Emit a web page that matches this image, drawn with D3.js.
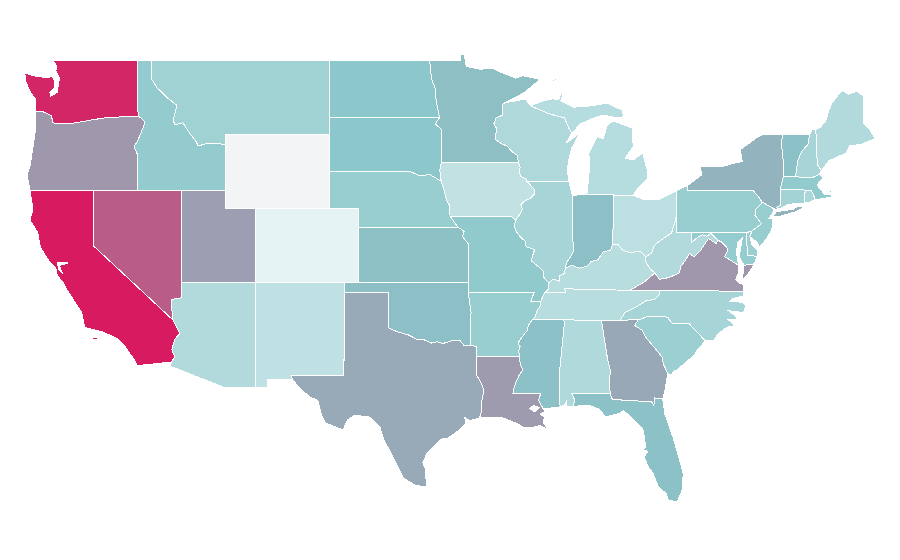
<!DOCTYPE html>
<html>
<head>
<meta charset="utf-8">
<style>
  html, body { margin: 0; background: #fff; }
  path.state { stroke: #fff; stroke-width: 1; shape-rendering: crispEdges; fill-rule: evenodd; }
</style>
</head>
<body>
<div id="chart"></div>
<script src="https://cdn.jsdelivr.net/npm/d3@7"></script>
<script>
const names = ["WA","OR","CA","NV","ID","MT","WY","UT","CO","AZ","NM","ND","SD","NE","KS","OK","TX","MN","IA","MO","AR","LA","WI","IL","MI","IN","OH","KY","TN","MS","AL","GA","FL","SC","NC","VA","WV","MD","DE","PA","NJ","NY","CT","RI","MA","VT","NH","ME"];
const values = [96.8,63.7,100,81,45,38,null,61.6,0.5,28,20.6,49,49,41.8,51.7,52,58.7,52.3,20,46.7,42,62.8,30.4,35,26.6,52,22.8,25,25,51.5,30,59,51.5,41,34,64,28,44,41,42,42,55.8,36,32,46,51.5,34,28];

// shared borders, lon/lat, listed so they can be reused by both neighbours
const missA = [[-92.1,46.75],[-92.29,46.66],[-92.29,46.08],[-92.75,45.9],[-92.88,45.6],[-92.7,45.35],[-92.8,44.75],[-92.3,44.5],[-92.0,44.4],[-91.6,44.05],[-91.3,43.9],[-91.22,43.5]];
const missB = [[-91.22,43.5],[-91.1,43.25],[-91.17,43.0],[-91.05,42.75],[-90.7,42.62],[-90.65,42.5]];
const missC = [[-90.65,42.5],[-90.42,42.3],[-90.15,42.05],[-90.15,41.8],[-90.4,41.58],[-90.75,41.45],[-91.05,41.25],[-90.95,41.0],[-91.12,40.7],[-91.42,40.38]];
const missD = [[-91.42,40.38],[-91.5,40.05],[-91.35,39.75],[-91.05,39.45],[-90.75,39.25],[-90.7,38.95],[-90.12,38.8],[-90.25,38.5],[-90.35,38.2],[-89.9,37.9],[-89.55,37.65],[-89.5,37.3],[-89.15,36.98]];
const missE = [[-89.15,36.98],[-89.2,36.65],[-89.42,36.5]];
const missF = [[-89.42,36.5],[-89.55,36.3],[-89.7,36.0]];
const missG = [[-89.7,36.0],[-89.75,35.75],[-89.95,35.5],[-90.1,35.15],[-90.3,35.0]];
const missH = [[-90.3,35.0],[-90.55,34.7],[-90.6,34.45],[-90.95,34.1],[-91.25,33.75],[-91.1,33.55],[-91.2,33.35],[-91.15,33.0]];
const missI = [[-91.15,33.0],[-91.1,32.6],[-90.92,32.3],[-91.15,32.05],[-91.4,31.6],[-91.55,31.25],[-91.6,31.0],[-89.73,31.0],[-89.85,30.65],[-89.53,30.18]];
const ohioA = [[-89.15,36.98],[-88.9,37.2],[-88.45,37.1],[-88.45,37.4],[-88.1,37.5],[-88.05,37.8]];
const ohioB = [[-88.05,37.8],[-87.6,37.95],[-87.1,37.8],[-86.6,37.9],[-86.3,38.15],[-85.85,38.25],[-85.45,38.7],[-85.0,38.75],[-84.82,39.1]];
const ohioC = [[-84.82,39.1],[-84.5,39.1],[-84.2,38.8],[-83.7,38.63],[-83.0,38.72],[-82.6,38.42]];
const ohioD = [[-82.6,38.42],[-82.2,38.6],[-82.05,39.0],[-81.75,39.2],[-81.4,39.4],[-80.85,39.7],[-80.65,40.2],[-80.52,40.64]];
const wabash = [[-88.05,37.8],[-87.95,38.1],[-87.7,38.4],[-87.5,38.7],[-87.53,39.35],[-87.53,41.71]];
const kyWv = [[-82.6,38.42],[-82.6,38.15],[-82.3,37.75],[-81.97,37.54]];
const kyVa = [[-81.97,37.54],[-82.7,37.05],[-83.68,36.6]];
const vaWv = [[-81.97,37.54],[-81.68,37.2],[-81.25,37.25],[-80.85,37.35],[-80.3,37.55],[-80.25,37.85],[-79.95,38.18],[-79.65,38.58],[-79.3,38.42],[-78.87,38.77],[-78.35,39.4],[-77.83,39.13],[-77.72,39.32]];
const mdWv = [[-77.72,39.32],[-78.2,39.68],[-78.45,39.52],[-78.75,39.6],[-79.05,39.48],[-79.48,39.2],[-79.48,39.72]];
const potomac = [[-77.72,39.32],[-77.45,39.2],[-77.12,38.93],[-77.04,38.79],[-77.25,38.4],[-77.0,38.3],[-76.35,37.97]];
const tnNc = [[-81.68,36.59],[-81.7,36.35],[-82.0,36.1],[-82.6,36.03],[-83.1,35.77],[-84.0,35.4],[-84.32,34.99]];
const ncSc = [[-83.11,35.0],[-82.4,35.2],[-81.05,35.15],[-81.05,35.05],[-80.8,34.82],[-79.67,34.8],[-78.55,33.86]];
const gaSc = [[-83.11,35.0],[-83.35,34.7],[-82.85,34.45],[-82.55,34.0],[-82.0,33.5],[-81.5,33.0],[-81.4,32.6],[-81.1,32.1],[-80.87,32.03]];
const gaAl = [[-84.86,30.7],[-85.0,31.0],[-85.05,31.5],[-85.0,32.3],[-85.18,32.87],[-85.6,34.98]];
const gaFl = [[-81.45,30.72],[-82.0,30.78],[-82.05,30.37],[-82.2,30.57],[-84.86,30.7]];
const redRiver = [[-94.48,33.64],[-94.9,33.62],[-95.2,33.9],[-95.7,33.88],[-96.35,33.72],[-96.7,33.82],[-97.1,33.75],[-97.4,33.85],[-97.7,33.95],[-98.1,33.95],[-98.7,34.2],[-99.4,34.35],[-100.0,34.56]];
const laTx = [[-94.04,33.02],[-94.04,32.0],[-93.75,31.6],[-93.55,31.2],[-93.7,30.6],[-93.72,30.05],[-93.85,29.7]];
const missouriUp = [[-95.3,40.0],[-95.85,40.6],[-95.9,41.2],[-96.1,41.5],[-96.25,42.0],[-96.45,42.49]];
const missouriSd = [[-96.45,42.49],[-97.2,42.85],[-97.9,42.8],[-98.5,43.0]];
const sdMn = [[-96.45,43.5],[-96.45,45.3],[-96.85,45.6],[-96.56,45.94]];
const ndMn = [[-96.56,45.94],[-96.8,46.9],[-96.85,47.5],[-97.1,48.0],[-97.23,49.0]];
const moKs = [[-94.62,37.0],[-94.61,39.1],[-95.0,39.5],[-94.9,39.8],[-95.3,40.0]];
const wiMi = [[-90.4,46.57],[-89.1,46.13],[-88.1,45.92],[-87.8,45.35],[-87.6,45.1]];
const delaware = [[-74.7,41.36],[-75.13,40.98],[-75.2,40.65],[-74.75,40.2],[-75.41,39.8]];
const vtNh = [[-71.5,45.01],[-71.6,44.5],[-72.05,44.1],[-72.3,43.6],[-72.46,42.73]];
const nyVt = [[-73.34,45.01],[-73.4,44.5],[-73.3,43.7],[-73.25,43.55],[-73.27,42.75]];
const riMa = [[-71.38,42.02],[-71.33,41.9],[-71.2,41.67],[-71.12,41.5]];
const snake = [[-116.92,46.0],[-116.5,45.7],[-116.65,45.37],[-117.0,44.7],[-117.25,44.35],[-117.0,43.9],[-117.03,42.0]];
const bitterroot = [[-116.05,48.0],[-115.7,47.55],[-115.0,47.0],[-114.35,46.6],[-114.6,45.8],[-114.5,45.55],[-113.95,45.65],[-113.45,45.05],[-113.1,44.7],[-112.9,44.4],[-112.3,44.55],[-111.55,44.55],[-111.05,44.45]];
const columbia = [[-123.95,46.25],[-123.4,46.24],[-122.85,46.05],[-122.75,45.65],[-122.05,45.6],[-121.2,45.65],[-120.2,45.8],[-119.0,45.95],[-116.92,46.0]];
const azCa = [[-114.63,35.0],[-114.15,34.27],[-114.5,33.95],[-114.7,33.4],[-114.5,33.0],[-114.72,32.72]];
const riverNeWi = [[-87.53,41.71],[-87.6,41.85],[-87.8,42.49]];
const nyPa = [[-79.76,42.27],[-79.76,42.0],[-75.35,42.0],[-75.05,41.75],[-74.7,41.36]];
const rioGrande = [[-106.53,31.78],[-106.2,31.47],[-105.4,30.85],[-104.8,30.65],[-104.6,29.95],[-104.3,29.45],[-103.9,29.3],[-103.1,29.05],[-102.8,29.6],[-102.3,29.85],[-101.3,29.75],[-100.6,29.2],[-100.35,28.55],[-99.5,27.25],[-99.0,26.45],[-98.2,26.05],[-97.4,25.97]];

const rev = (a) => a.slice().reverse();
const ring = (...parts) => parts.flat();

const rings = {
  WA: [ring([[-117.03,49],[-122.75,49],[-122.5,48.75],[-122.55,48.45],[-122.3,48.05],[-122.4,47.6],[-122.45,47.3],[-122.9,47.08],[-122.95,47.3],[-122.62,47.55],[-122.65,47.9],[-122.78,48.15],[-123.2,48.1],[-124.1,48.2],[-124.65,48.35],[-124.6,47.9],[-124.3,47.35],[-123.95,46.95]], columbia, [[-117.04,46.4]])],
  OR: [ring(columbia, snake, [[-124.3,42],[-124.5,42.85],[-124.3,43.3],[-124.03,44.7],[-123.9,45.5]])],
  CA: [ring([[-124.3,42],[-120,42],[-120,39]], azCa, [[-117.05,32.53],[-117.25,32.85],[-117.9,33.6],[-118.4,34.0],[-119.4,34.36],[-120.6,34.6],[-120.8,35.4],[-121.8,36.63],[-122.0,36.95],[-122.45,37.4],[-122.55,37.8],[-122.95,38.1],[-123.6,38.93],[-123.77,39.7],[-124.3,40.4],[-124.1,41]]),
       [[-122.45,38.1],[-121.7,38.08],[-122.15,37.98],[-122.3,37.93],[-122.1,37.5],[-122.32,37.68],[-122.4,37.9]],
       [[-120.05,34.05],[-119.75,34.05],[-119.75,33.95],[-120.05,33.95]]],
  NV: [ring([[-120,42],[-114.04,42],[-114.04,36.2],[-114.75,36.1],[-114.63,35.0],[-120,39]])],
  ID: [ring([[-117.03,49],[-116.05,49]], bitterroot, [[-111.05,42]], rev(snake), [[-117.04,46.4]])],
  MT: [ring([[-116.05,49],[-104.05,49],[-104.05,45],[-111.05,45]], rev(bitterroot))],
  WY: [[[-111.05,45],[-104.05,45],[-104.05,41],[-111.05,41]]],
  UT: [[[-114.04,42],[-111.05,42],[-111.05,41],[-109.05,41],[-109.05,37],[-114.04,37]]],
  CO: [[[-109.05,41],[-102.05,41],[-102.05,37],[-109.05,37]]],
  AZ: [ring([[-114.04,37],[-109.05,37],[-109.05,31.33],[-111.07,31.33],[-114.81,32.5]], rev(azCa), [[-114.75,36.1],[-114.04,36.2]])],
  NM: [[[-109.05,37],[-103.0,37],[-103.04,32],[-106.62,32],[-106.53,31.78],[-108.21,31.78],[-108.21,31.33],[-109.05,31.33]]],
  ND: [ring([[-104.05,49]], rev(ndMn), [[-104.05,45.94]])],
  SD: [ring([[-104.05,45.94]], rev(sdMn), [[-96.55,43.1]], missouriSd, [[-104.05,43]])],
  NE: [ring([[-104.05,43]], rev(missouriSd), rev(missouriUp), [[-102.05,40],[-102.05,41],[-104.05,41]])],
  KS: [ring([[-102.05,40]], rev(moKs), [[-102.04,37]])],
  OK: [ring([[-103,37],[-94.62,37],[-94.62,36.5],[-94.43,35.4]], redRiver, [[-100,36.5],[-103,36.5]])],
  TX: [ring([[-103,36.5],[-100,36.5]], rev(redRiver), [[-94.04,33.55]], laTx, [[-94.5,29.55],[-94.85,29.72],[-94.8,29.4],[-95.3,29.0],[-96.0,28.6],[-96.5,28.55],[-97.05,28.1],[-97.4,27.8],[-97.7,27.3],[-97.5,26.9],[-97.5,26.5]], rev(rioGrande), [[-106.62,32],[-103.04,32]])],
  MN: [ring([[-95.15,49],[-95.15,49.38],[-94.9,49.35],[-94.75,48.7],[-93.8,48.55],[-93.0,48.6],[-92.46,48.4],[-91.4,48.07],[-90.9,48.2],[-89.75,48.0],[-90.8,47.3]], missA, [[-96.45,43.5]], sdMn, ndMn)],
  IA: [ring([[-96.45,43.5]], missB, missC, [[-91.72,40.6],[-95.85,40.6]], missouriUp.slice(2), [[-96.55,43.1]])],
  MO: [ring([[-95.85,40.6],[-91.72,40.6]], missD, missE, missF, [[-90.38,36],[-90.15,36.5],[-94.62,36.5]], moKs)],
  AR: [ring([[-94.62,36.5],[-90.15,36.5],[-90.38,36]], missG, missH, [[-94.04,33.02],[-94.04,33.55],[-94.48,33.64],[-94.43,35.4]])],
  LA: [ring([[-91.15,33.0]], missI, [[-89.4,30.05],[-89.75,29.9],[-89.45,29.75],[-89.55,29.45],[-89.2,29.05],[-89.75,29.3],[-90.2,29.2],[-90.9,29.2],[-91.3,29.4],[-91.8,29.55],[-92.25,29.7],[-92.9,29.7],[-93.85,29.7]], rev(laTx)),
       [[-90.45,30.2],[-90.2,30.38],[-89.8,30.25],[-90.1,30.03]]],
  WI: [ring([[-92.1,46.75],[-91.2,46.87],[-90.75,46.95]], wiMi, [[-88.0,44.55],[-87.4,44.9],[-87.05,45.15],[-87.6,44.3],[-87.85,43.5],[-87.9,43.0],[-87.8,42.49]], [[-90.65,42.5]], rev(missB), rev(missA))],
  IL: [ring([[-90.65,42.5]], rev(riverNeWi), rev(wabash), rev(ohioA), rev(missD), rev(missC))],
  MI: [ring(rev(wiMi), [[-89.6,46.83],[-88.9,46.95],[-88.5,46.9],[-88.35,47.2],[-87.85,47.45],[-88.2,47.2],[-88.35,46.85],[-87.5,46.5],[-86.5,46.55],[-85.2,46.72],[-84.6,46.47],[-84.2,46.35],[-84.1,45.97],[-84.7,45.95],[-85.5,46.08],[-86.3,45.85],[-87.0,45.6]]),
       ring([[-86.82,41.76],[-84.8,41.76],[-84.8,41.7],[-83.45,41.73],[-83.15,42.1],[-82.5,42.6],[-82.45,42.95],[-82.8,44.02],[-83.45,43.65],[-84.0,43.75],[-83.45,44.35],[-83.5,45.37],[-84.8,45.75],[-85.2,45.55],[-85.47,44.8],[-85.9,44.9],[-86.45,44.02],[-86.4,43.26],[-86.57,41.86]]),
       [[-89.1,47.87],[-88.65,48.05],[-88.7,47.93]]],
  IN: [ring([[-87.53,41.71],[-87.2,41.76],[-86.82,41.76],[-84.8,41.76]], rev(ohioB), wabash)],
  OH: [ring([[-84.8,41.7],[-83.45,41.73],[-82.7,41.5],[-81.7,41.5],[-80.52,41.98]], rev(ohioD), rev(ohioC))],
  KY: [ring(ohioA, ohioB, ohioC, kyWv, kyVa, [[-86.5,36.65],[-88.07,36.68],[-88.06,36.5],[-89.42,36.5]], rev(missE))],
  TN: [ring([[-89.42,36.5],[-88.06,36.5],[-88.07,36.68],[-86.5,36.65],[-83.68,36.6]], tnNc, [[-85.6,34.98],[-88.2,35.0]], rev(missG), rev(missF))],
  MS: [ring([[-90.3,35.0],[-88.2,35.0],[-88.1,34.9],[-88.47,31.9],[-88.4,30.3],[-89.53,30.18]], rev(missI), rev(missH))],
  AL: [ring([[-88.2,35.0],[-85.6,34.98]], rev(gaAl.slice(1)), [[-87.6,31.0],[-87.4,30.65],[-87.52,30.33],[-88.0,30.3],[-87.95,30.65],[-88.1,30.4],[-88.4,30.3],[-88.47,31.9],[-88.1,34.9]])],
  GA: [ring([[-85.6,34.98],[-84.32,34.99]], gaSc, [[-81.1,32.1],[-81.3,31.2]], gaFl, gaAl.slice(1))],
  FL: [ring(gaFl, [[-85.0,31.0],[-87.6,31.0],[-87.4,30.65],[-87.52,30.33],[-86.4,30.38],[-85.7,30.15],[-85.35,29.75],[-84.35,29.95],[-84.1,30.1],[-83.4,29.6],[-82.77,29.05],[-82.6,28.15],[-82.77,27.97],[-82.45,27.9],[-82.7,27.6],[-82.43,27.05],[-82.1,26.7],[-81.75,26.0],[-81.2,25.6],[-81.07,25.27],[-80.47,25.16],[-80.13,25.8],[-80.06,26.7],[-80.3,27.4],[-80.75,28.65],[-81.3,29.9]])],
  SC: [ring(gaSc, [[-80.65,32.25],[-80.45,32.3],[-79.9,32.7],[-79.3,33.1],[-79.15,33.35]], rev(ncSc))],
  NC: [ring([[-84.32,34.99]], rev(tnNc), [[-75.95,36.55],[-76.0,36.3],[-76.7,36.15],[-76.9,36.0],[-76.0,35.95],[-75.8,35.75],[-76.0,35.4],[-77.0,35.5],[-76.5,35.2],[-76.4,35.0],[-77.0,35.0],[-76.55,34.7],[-77.1,34.6],[-77.7,34.25],[-78.0,33.9]], rev(ncSc))],
  VA: [ring([[-83.68,36.6]], rev(kyVa), vaWv, potomac, [[-76.3,37.55],[-76.5,37.2],[-76.3,37.0],[-76.0,36.92],[-75.95,36.55],[-81.68,36.59]]),
       [[-76.05,37.15],[-75.95,37.95],[-75.24,38.03],[-75.65,37.5]]],
  WV: [ring(ohioD, [[-80.52,39.72]], rev(mdWv), rev(vaWv), rev(kyWv))],
  MD: [ring([[-79.48,39.72],[-75.79,39.72],[-75.7,38.46],[-75.05,38.45],[-75.24,38.03],[-75.95,37.95],[-76.15,38.25],[-76.25,38.4],[-76.2,38.75],[-76.05,39.45],[-76.35,39.2],[-76.45,38.75],[-76.4,38.3],[-76.32,38.04]], rev(potomac), mdWv)],
  DE: [[[-75.79,39.72],[-75.41,39.8],[-75.55,39.5],[-75.4,39.05],[-75.05,38.78],[-75.05,38.45],[-75.7,38.46]]],
  PA: [ring([[-80.52,41.98],[-80.07,42.15]], nyPa, delaware, [[-75.79,39.72],[-80.52,39.72],[-80.52,40.64]])],
  NJ: [ring([[-73.9,41.0]], delaware, [[-75.55,39.5],[-75.05,39.2],[-74.9,38.93],[-74.4,39.4],[-74.05,39.9],[-74.0,40.45],[-74.25,40.5],[-74.0,40.75]])],
  NY: [ring([[-79.76,42.27],[-79.05,42.7],[-78.8,42.83],[-78.9,43.27],[-77.5,43.27],[-76.5,43.5],[-76.06,43.55],[-76.2,44.2],[-75.0,44.9],[-74.7,45.0]], nyVt, [[-73.5,42.05],[-73.49,41.2],[-73.73,41.1],[-73.65,40.98],[-73.9,41.0]], rev(nyPa)),
       [[-74.0,40.6],[-73.75,40.85],[-72.6,40.98],[-72.3,41.15],[-71.87,41.07],[-72.5,40.83],[-73.6,40.58]]],
  CT: [[[-73.5,42.05],[-71.8,42.02],[-71.86,41.32],[-72.9,41.25],[-73.65,40.98],[-73.73,41.1],[-73.49,41.2]]],
  RI: [ring([[-71.8,42.02]], riMa, [[-71.5,41.37],[-71.86,41.32]])],
  MA: [ring([[-73.5,42.05],[-73.27,42.75],[-72.46,42.73],[-71.3,42.7],[-70.82,42.87],[-70.6,42.65],[-71.0,42.3],[-70.65,41.95],[-70.5,41.78],[-70.05,41.78],[-70.2,42.05],[-70.0,41.95],[-70.0,41.65],[-70.6,41.55]], rev(riMa), [[-71.8,42.02]])],
  VT: [ring(nyVt, rev(vtNh))],
  NH: [ring(vtNh, [[-71.3,42.7],[-70.82,42.87],[-70.7,43.07],[-70.98,43.4],[-71.08,45.3],[-71.3,45.3]])],
  ME: [[[-71.08,45.3],[-70.8,45.4],[-70.4,45.75],[-70.25,46.2],[-70.0,46.7],[-69.3,47.43],[-68.9,47.2],[-68.3,47.35],[-67.85,47.1],[-67.85,45.65],[-67.45,45.3],[-67.05,44.8],[-68.0,44.5],[-68.8,44.4],[-69.05,44.0],[-69.8,43.75],[-70.2,43.6],[-70.7,43.07],[-70.98,43.4]]],
};

const W = 900, H = 560;
const x = d3.scaleLinear().domain([-120, -114.04]).range([93.5, 181.5]);
const y = d3.scaleLinear().domain([49, 37]).range([60.9, 282.9]);

const color = d3.scaleLinear().domain([0, 50, 100]).range(["#e6f3f4", "#8ac7ca", "#d81b60"]);
const NO_DATA = "#f2f4f6";

const path = d3.geoPath(d3.geoTransform({
  point(lon, lat) { this.stream.point(x(lon), y(lat)); },
}));

// geoPath wants closed rings
const closed = (r) => [...r, r[0]];

const features = names.map((n, i) => ({
  type: "Feature",
  properties: { name: n, value: values[i] },
  geometry: { type: "MultiPolygon", coordinates: rings[n].map((r) => [closed(r)]) },
}));

const svg = d3.select("#chart").append("svg").attr("width", W).attr("height", H).style("display", "block");

svg.selectAll("path.state")
  .data(features)
  .join("path")
  .attr("class", "state")
  .attr("d", path)
  .attr("fill", (d) => (d.properties.value == null ? NO_DATA : color(d.properties.value)));
</script>
</body>
</html>
